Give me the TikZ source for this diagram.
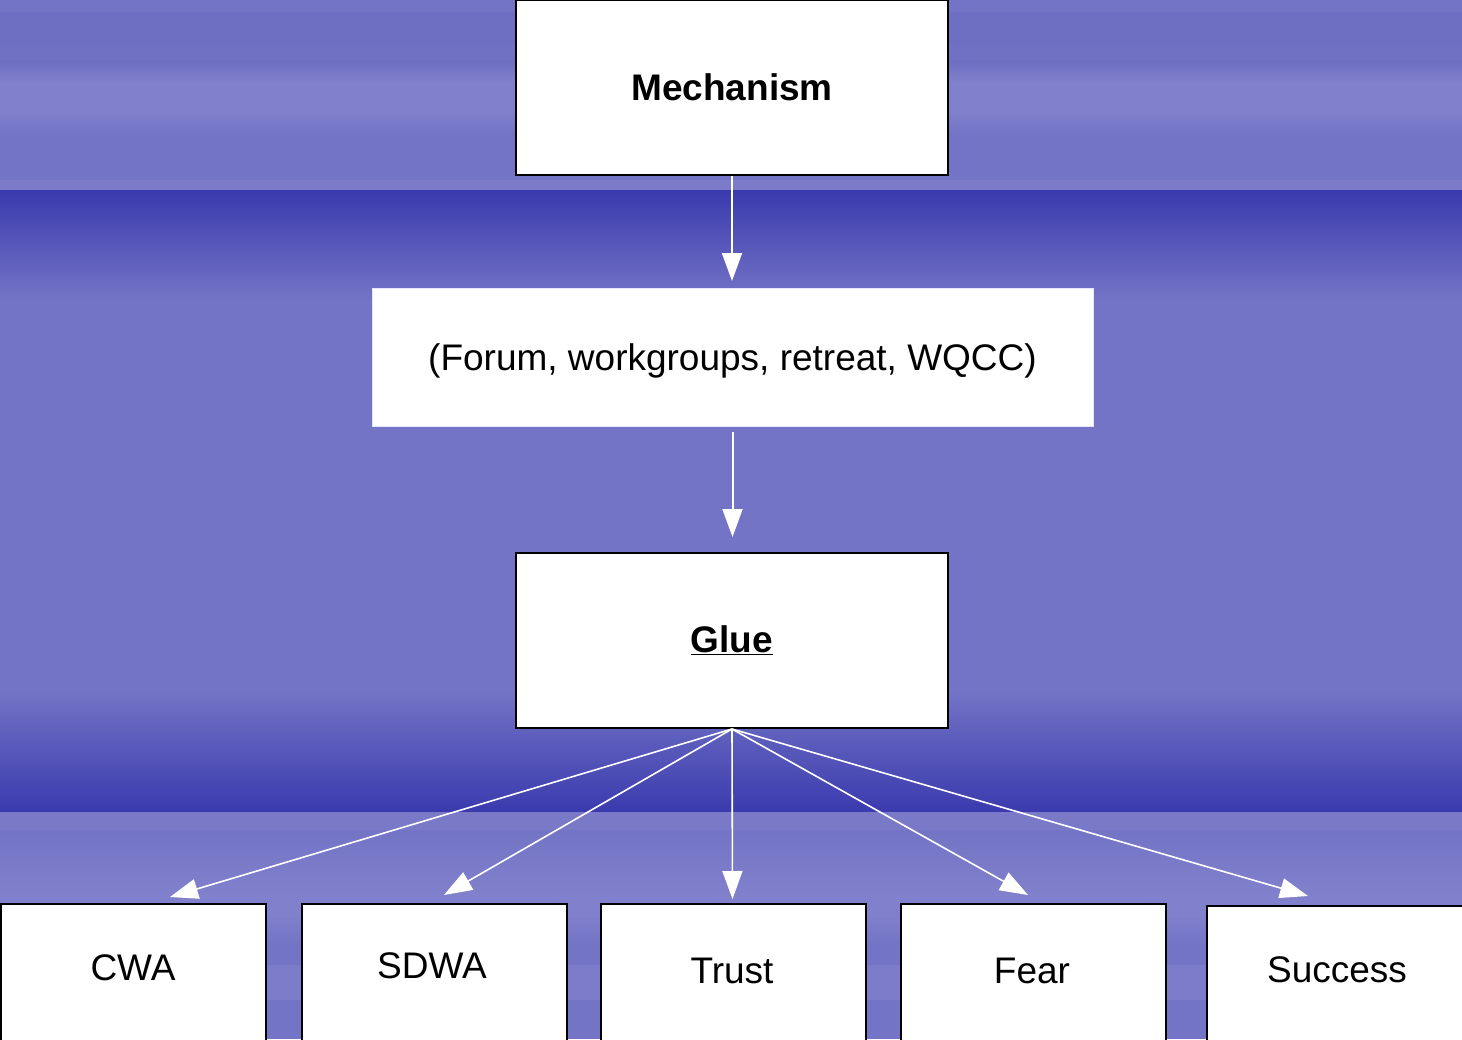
\documentclass[tikz,border=0pt]{standalone}
\usepackage{fontspec}
\setmainfont{Liberation Sans}
\usetikzlibrary{arrows.meta}
\definecolor{bgmain}{HTML}{7474C6}
\definecolor{bgtop}{HTML}{6E6EC2}
\definecolor{bglight}{HTML}{8080CC}
\definecolor{bgdark}{HTML}{3A3AAE}
\tikzset{
  box/.style={draw=black, line width=2pt, fill=white, minimum width=432pt, minimum height=175pt, inner sep=0pt, font=\fontsize{37}{44}\selectfont\bfseries},
  flatbox/.style={fill=white, draw=white!90!blue, line width=1pt, minimum width=721pt, minimum height=138pt, inner sep=0pt, text height=27pt, text depth=0pt, font=\fontsize{37}{44}\selectfont},
  leaf/.style={draw=black, line width=2pt, fill=white, minimum width=265pt, minimum height=160pt, inner sep=0pt, anchor=north west},
  leaftext/.style={font=\fontsize{37}{44}\selectfont, inner sep=0pt},
  conn/.style={draw=white, line width=2pt, -{Triangle[length=28pt,width=20pt,fill=white]}},
  fanconn/.style={draw=white, line width=1.6pt, -{Triangle[length=28pt,width=20pt,fill=white]}}
}
\begin{document}
\begin{tikzpicture}[x=1pt,y=-1pt]
\useasboundingbox (0,0) rectangle (1462,1039);
\begin{scope}
\clip (0,0) rectangle (1462,1039);
% background
\fill[bgmain] (0,0) rectangle (1462,1039);
\fill[bgtop] (0,0) rectangle (1462,190);
\fill[bgmain] (0,0) rectangle (1462,12);
\fill[bgtop!80!bglight] (0,45) rectangle (1462,60);
\shade[top color=bgtop, bottom color=bglight] (0,60) rectangle (1462,82);
\fill[bglight] (0,82) rectangle (1462,110);
\shade[top color=bglight, bottom color=bgmain] (0,110) rectangle (1462,135);
\fill[bgmain] (0,135) rectangle (1462,190);
\fill[bglight!60!bgmain] (0,180) rectangle (1462,190);
\shade[top color=bgdark, bottom color=bgmain] (0,190) rectangle (1462,300);
\fill[bgmain] (0,300) rectangle (1462,690);
\shade[top color=bgmain, bottom color=bgdark] (0,690) rectangle (1462,812);
\fill[bgmain] (0,812) rectangle (1462,1039);
\fill[bglight!40!bgmain] (0,812) rectangle (1462,830);
\shade[top color=bgmain, bottom color=bglight] (0,830) rectangle (1462,895);
\fill[bglight] (0,895) rectangle (1462,915);
\shade[top color=bglight, bottom color=bgmain] (0,915) rectangle (1462,945);
\fill[bglight!70!bgmain] (0,965) rectangle (1462,1000);
\fill[bgmain] (0,1000) rectangle (1462,1039);

% nodes
\node[box] (mech) at (732,87.5) {Mechanism};
\node[flatbox] (forum) at (732.5,357) {(Forum, workgroups, retreat, WQCC)};
\node[box] (glue) at (732,640.5) {\underline{Glue}};

\node[leaf] (cwab) at (0,903) {};
\node[leaf] (sdwab) at (301,903) {};
\node[leaf] (trustb) at (600,903) {};
\node[leaf] (fearb) at (900,903) {};
\node[leaf, minimum width=270pt] (succb) at (1206,905) {};

\node[leaftext] (cwa) at (133,968) {CWA};
\node[leaftext] (sdwa) at (432,966) {SDWA};
\node[leaftext] (trust) at (732,971) {Trust};
\node[leaftext] (fear) at (1032,971) {Fear};
\node[leaftext] (succ) at (1337,970) {Success};

% arrow tips
\coordinate (t1) at (170,897);
\coordinate (t2) at (444,895);
\coordinate (t3) at (732.5,899);
\coordinate (t4) at (1028,895);
\coordinate (t5) at (1308,896);
\coordinate (f1) at (732.5,432);

\draw[conn] (mech.south) -- (mech.south |- 0,281);
\draw[conn] (f1) -- (732.5,537);
\draw[fanconn] (glue.south) -- (t1);
\draw[fanconn] (glue.south) -- (t2);
\draw[fanconn] (glue.south) -- (t3);
\draw[fanconn] (glue.south) -- (t4);
\draw[fanconn] (glue.south) -- (t5);
\end{scope}
\end{tikzpicture}
\end{document}
